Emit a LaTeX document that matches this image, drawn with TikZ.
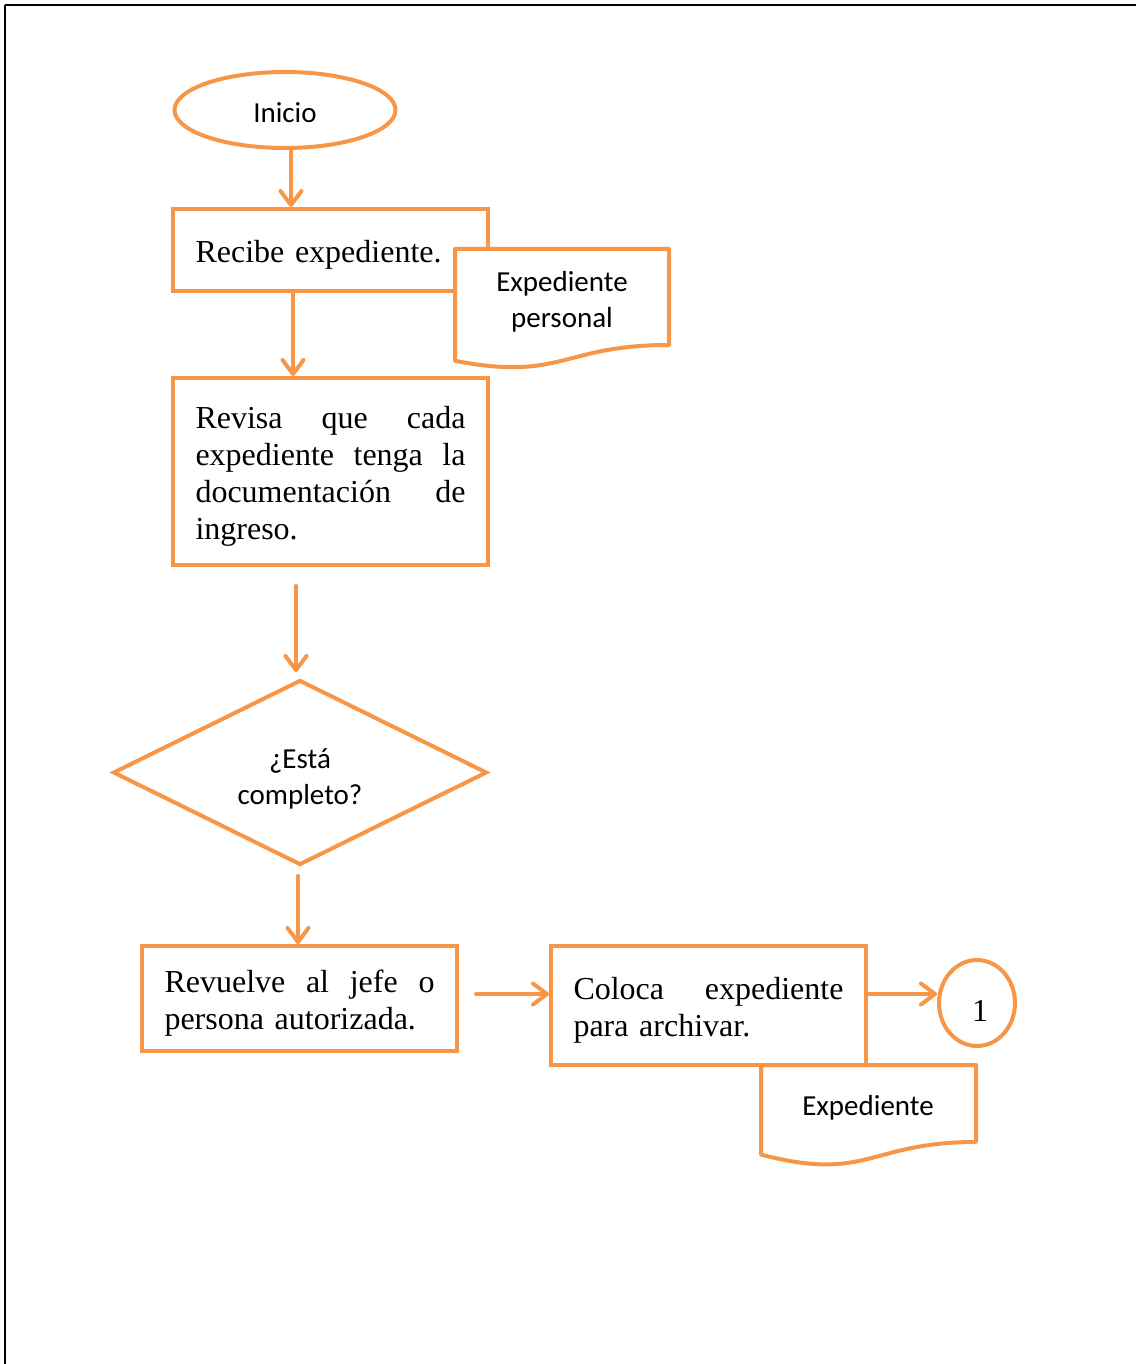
\documentclass[tikz,border=0pt]{standalone}
\usepackage{fontspec}
\setmainfont{Liberation Serif}
\newfontfamily\calib{Carlito}
\usetikzlibrary{shapes.geometric,arrows.meta}
\definecolor{flow}{HTML}{F79646}

\begin{document}
\begin{tikzpicture}[x=0.5pt,y=-0.5pt,
  every node/.style={inner sep=0pt},
  line/.style={draw=flow, line width=2pt},
  sans/.style={font=\calib\fontsize{14.5}{18}\selectfont},
  serif/.style={font=\fontsize{16}{18.5}\selectfont},
  stepbox/.style={line, fill=white, rectangle, text width=135pt,
    inner xsep=11.25pt, align=left, serif,
    execute at begin node={\rule{0pt}{15.9pt}}},
  arr/.style={draw=flow, line width=2pt, line cap=round,
    -{Straight Barb[length=7pt,width=10.5pt,round]}},
  docshape/.style={line, fill=white, line join=round}
]
\useasboundingbox (0,0) rectangle (1136,1364);

% page frame
\draw[line width=1.1pt] (5,5) -- (1136,5);
\draw[line width=0.7pt] (5,5) -- (5,1364);

% start
\node[ellipse, line, minimum width=110.5pt, minimum height=38pt, sans,
  text height=13pt, text depth=0pt] (ini) at (285,110) {Inicio};

% process steps
\node[stepbox, minimum height=41pt] (rec) at (330.5,250) {Recibe expediente.};
\node[stepbox, minimum height=93.5pt] (rev) at (330.5,471.5)
  {Revisa\hfill que\hfill cada\\ expediente\hfill tenga\hfill la\\ documentación\hfill de\\ ingreso.};

% incoming document
\draw[docshape] (455,249) -- (669,249) -- (669,345)
  .. controls (562,345) and (562,381.6) .. (455,360.8) -- cycle;
\node[sans, align=center] (d1) at (562,301.5) {Expediente\\personal};

% decision
\node[diamond, line, aspect=2, minimum width=187pt, minimum height=92.5pt,
  sans, align=center] (dia) at (300,772.5) {\rule{0pt}{16.5pt}¿Está\\completo?};

\node[stepbox, minimum height=52.5pt] (revu) at (299.5,998.5)
  {Revuelve\hfill al\hfill jefe\hfill o\\ persona autorizada.};
\node[stepbox, minimum height=59.5pt] (col) at (708.5,1005.5)
  {Coloca\hfill expediente\\ para archivar.};

% connector
\node[ellipse, line, minimum width=38pt, minimum height=43pt, serif,
  text height=18pt, text depth=0pt] (one) at (977,1003) {\hspace{3pt}1};

% filed document
\draw[docshape] (761,1065) -- (976,1065) -- (976,1142)
  .. controls (868.5,1142) and (868.5,1182.5) .. (761,1154.6) -- cycle;
\node[sans] (d2) at (868,1107.5) {Expediente};

% flow
\coordinate (a1) at ([xshift=3pt]ini.south);
\draw[arr] (a1) -- (a1 |- rec.north);
\coordinate (a2) at ([xshift=-18.75pt]rec.south);
\draw[arr] (a2) -- (a2 |- rev.north);
\coordinate (a3) at (296,586);
\draw[arr, shorten >=3pt] (a3) -- (a3 |- dia.north);
\coordinate (a4) at (298,876);
\draw[arr] (a4) -- (a4 |- revu.north);
\coordinate (a5) at (476,994);
\draw[arr] (a5) -- (a5 -| col.west);
\coordinate (a6) at (col.east |- a5);
\draw[arr] (a6) -- (a6 -| one.west);
\end{tikzpicture}
\end{document}
